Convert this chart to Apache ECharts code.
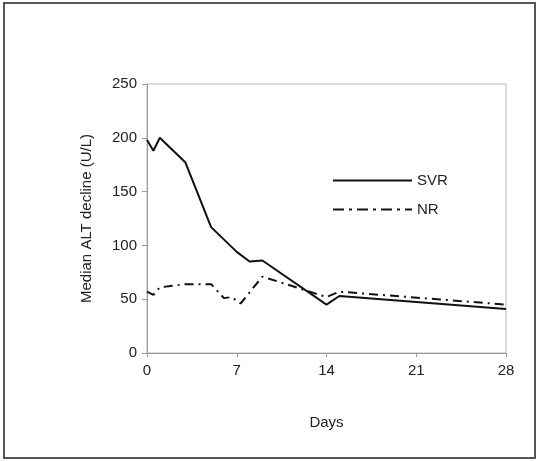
<!DOCTYPE html>
<html>
<head>
<meta charset="utf-8">
<script src="https://cdn.jsdelivr.net/npm/echarts@6/dist/echarts.min.js"></script>
<style>
  html, body { margin: 0; padding: 0; background: #fff; }
  #chart { width: 539px; height: 461px; }
</style>
</head>
<body>
<div id="chart"></div>
<script>
// values
const svrDays = [0, 0.5, 1, 3, 5, 7, 8, 9, 14, 15, 28];
const svrValues = [198, 188, 200, 177, 117, 94, 85, 86, 45, 53, 41];
const nrDays = [0, 0.5, 1, 3, 5, 6, 6.6, 7.3, 9, 14, 15, 28];
const nrValues = [57, 54, 61, 64, 64, 51, 52, 46, 71, 52, 57, 45];
const xTicks = [0, 7, 14, 21, 28];

const pairs = (xs, ys) => xs.map((x, i) => [x, ys[i]]);

// dash-dot legend glyph, 79 wide
function dashDotPath() {
  let p = "path://";
  let x = 0;
  while (x < 79) {
    const d = Math.min(11, 79 - x);
    p += `M${x},0L${x + d},0L${x + d},2L${x},2Z`;
    x += d + 5;
    if (x + 3 <= 79) p += `M${x},0L${x + 3},0L${x + 3},2L${x},2Z`;
    x += 8;
  }
  return p;
}

const chart = echarts.init(document.getElementById("chart"));
const font = "Liberation Sans, Arial, sans-serif";

chart.setOption({
  backgroundColor: "#fff",
  animation: false,
  textStyle: { fontFamily: font },
  graphic: [
    {
      type: "rect",
      shape: { x: 4, y: 3, width: 531, height: 455 },
      style: { fill: "none", stroke: "#555", lineWidth: 2 }
    }
  ],
  grid: {
    left: 147,
    top: 84,
    width: 359,
    height: 269,
    show: true,
    borderColor: "#bbb",
    borderWidth: 1
  },
  legend: {
    orient: "vertical",
    left: 333,
    top: 173,
    padding: 0,
    itemWidth: 79,
    itemHeight: 14,
    itemGap: 14,
    textStyle: { fontSize: 15, color: "#222", fontFamily: font },
    data: [
      { name: "SVR", icon: "path://M0,0L79,0L79,2L0,2Z" },
      { name: "NR", icon: dashDotPath() }
    ]
  },
  xAxis: {
    type: "value",
    min: 0,
    max: 28,
    interval: 7,
    name: "Days",
    nameLocation: "middle",
    nameGap: 62,
    nameTextStyle: { fontSize: 15, color: "#222" },
    axisLine: { lineStyle: { color: "#999" } },
    axisTick: { show: true, length: 4, lineStyle: { color: "#999" } },
    axisLabel: { fontSize: 15, color: "#222", margin: 10,
      formatter: v => xTicks.includes(v) ? String(v) : "" },
    splitLine: { show: false }
  },
  yAxis: {
    type: "value",
    min: 0,
    max: 250,
    interval: 50,
    name: "Median ALT decline (U/L)",
    nameLocation: "middle",
    nameGap: 53,
    nameRotate: 90,
    nameTextStyle: { fontSize: 15, color: "#222" },
    axisLine: { show: true, lineStyle: { color: "#999" } },
    axisTick: { show: true, length: 5, lineStyle: { color: "#999" } },
    axisLabel: { fontSize: 15, color: "#222", margin: 10 },
    splitLine: { show: false }
  },
  series: [
    {
      name: "SVR",
      type: "line",
      data: pairs(svrDays, svrValues),
      showSymbol: false,
      symbol: "none",
      color: "#111",
      lineStyle: { color: "#111", width: 2 }
    },
    {
      name: "NR",
      type: "line",
      data: pairs(nrDays, nrValues),
      showSymbol: false,
      symbol: "none",
      color: "#111",
      lineStyle: { color: "#111", width: 2, type: [9, 5, 2, 5] }
    }
  ]
});
</script>
</body>
</html>
